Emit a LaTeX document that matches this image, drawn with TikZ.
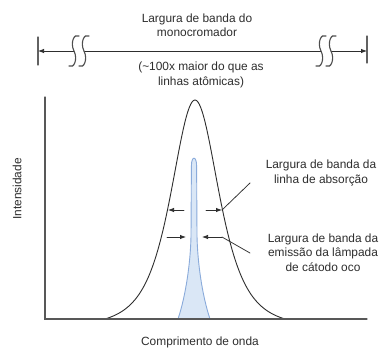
\documentclass[tikz,border=0pt]{standalone}
\usepackage{fontspec}
\setmainfont{Liberation Sans}
\usetikzlibrary{arrows.meta}
\definecolor{ink}{HTML}{2E2E2E}
\definecolor{peakline}{HTML}{8AABDB}
\definecolor{peakfill}{HTML}{DAE7F6}
\begin{document}
\begin{tikzpicture}[x=1pt,y=-1pt, line cap=round,
  txt/.style={font=\fontsize{11.9}{14.5}\selectfont, text=ink, align=center, inner sep=0pt},
  axisline/.style={draw=ink!80, line width=1.3pt},
  thinline/.style={draw=ink, line width=0.75pt},
  tickline/.style={draw=ink!75, line width=1.1pt},
  tipend/.style={-{Latex[length=6pt,width=4.4pt]}},
  breakmark/.pic={\draw[draw=ink!85, line width=1.1pt] (5,-15) .. controls (0,-18) and (-4,-8) .. (0,0) .. controls (4,8) and (0,18) .. (-5,15);}]
\useasboundingbox (0,0) rectangle (379,349);
\fill[white] (0,0) rectangle (379,349);

% texts
\node[txt] (title) at (197,25) {Largura de banda do\\monocromador};
\node[txt] (sub) at (201,75) {(\textasciitilde100x maior do que as\\linhas atômicas)};
\node[txt] (lab1) at (321,173) {Largura de banda da\\linha de absorção};
\node[txt] (lab2) at (323,252.5) {Largura de banda da\\emissão da lâmpada\\de cátodo oco};
\node[txt, rotate=90] (ylab) at (17,189) {Intensidade};
\node[txt] (xlab) at (200,342) {Comprimento de onda};

% top bar
\coordinate (tl) at (38,51);
\coordinate (tr) at (367,51);
\coordinate (s1) at (74,51);
\coordinate (s2) at (84,51);
\coordinate (s3) at (321,51);
\coordinate (s4) at (331,51);
\draw[tickline] (38,37) -- (38,65);
\draw[tickline] (367,36) -- (367,63);
\draw[thinline] (s2) -- (s3);
\draw[thinline,tipend] (s1) -- (tl);
\draw[thinline,tipend] (s4) -- (tr);
\pic at (s1) {breakmark};
\pic at (s2) {breakmark};
\pic at (s3) {breakmark};
\pic at (s4) {breakmark};

% emission peak (narrow, blue)
\filldraw[fill=peakfill, draw=peakline, line width=0.9pt]
  (178,319) .. controls (186,295) and (190.5,262) .. (191,236)
  -- (191.4,166) .. controls (191.4,155.5) and (196.6,155.5) .. (196.6,166)
  -- (197,236) .. controls (197.5,262) and (202,295) .. (210,319) -- cycle;

% absorption line (broad)
\draw[ink, line width=0.9pt]
  plot[domain=-90:90,samples=181,smooth] ({195+\x},{319-219*(1/((1+\x*\x/1936)*(1+\x*\x/1936))-0.0372)/0.9628});

% axes
\coordinate (origin) at (45,319);
\coordinate (ytop) at (45,97);
\coordinate (xend) at (367,319);
\draw[axisline] (ytop) -- (origin) -- (xend);

% width arrows
\coordinate (ua1) at (184,210); \coordinate (ua2) at (168,210);
\coordinate (ub1) at (206,210); \coordinate (ub2) at (222,210);
\coordinate (la1) at (167,237); \coordinate (la2) at (186,237);
\coordinate (lb1) at (222,237); \coordinate (lb2) at (202,237);
\draw[thinline,tipend] (ua1) -- (ua2);
\draw[thinline,tipend] (ub1) -- (ub2);
\draw[thinline,tipend] (la1) -- (la2);
\draw[thinline,tipend] (lb1) -- (lb2);

% leaders
\coordinate (lead1) at (250,183);
\coordinate (lead2) at (250,253);
\draw[thinline] (ub2) -- (lead1);
\draw[thinline] (lb1) -- (lead2);
\end{tikzpicture}
\end{document}
